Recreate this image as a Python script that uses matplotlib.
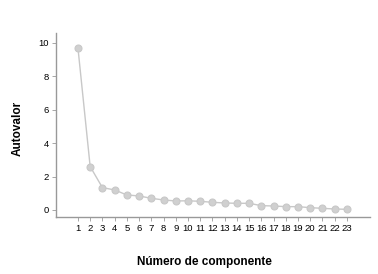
import matplotlib
matplotlib.use("Agg")
import matplotlib.pyplot as plt

components = list(range(1, 24))
eigenvalues = [9.7, 2.6, 1.34, 1.2, 0.9, 0.84, 0.7, 0.6, 0.54, 0.55, 0.52, 0.46,
               0.42, 0.4, 0.4, 0.26, 0.24, 0.2, 0.2, 0.14, 0.1, 0.06, 0.04]
yticks = [0, 2, 4, 6, 8, 10]

plt.rcParams['font.family'] = ['Liberation Sans', 'DejaVu Sans']

fig = plt.figure(figsize=(3.78, 2.74), dpi=100)
ax = fig.add_axes([0.148, 0.208, 0.831, 0.672])
ax.plot(components, eigenvalues, color='#c8c8c8', lw=1.0, marker='o',
        markersize=5, markerfacecolor='#d0d0d0', markeredgecolor='#c8c8c8', markeredgewidth=0.8)
ax.set_xlim(-0.8, 24.9)
ax.set_ylim(-0.42, 10.6)
ax.set_xticks(components)
ax.set_xticklabels([str(c) for c in components], fontsize=6.8)
ax.set_yticks(yticks)
ax.set_yticklabels([str(v) for v in yticks], fontsize=6.8)
for s in ['top', 'right']:
    ax.spines[s].set_visible(False)
for s in ['left', 'bottom']:
    ax.spines[s].set_color('#999999')
    ax.spines[s].set_linewidth(1.0)
ax.tick_params(axis='both', colors='#999999', labelcolor='black', length=3, width=0.6, pad=2)
ax.set_ylabel('Autovalor', fontsize=8.5, fontweight='bold', va='center')
ax.set_xlabel('Número de componente', fontsize=8.5, fontweight='bold', va='center')
ax.yaxis.set_label_coords(18 / 378, 1 - 128 / 274, transform=fig.transFigure)
ax.xaxis.set_label_coords(204 / 378, 1 - 262 / 274, transform=fig.transFigure)
fig.savefig('out.png', dpi=100)
